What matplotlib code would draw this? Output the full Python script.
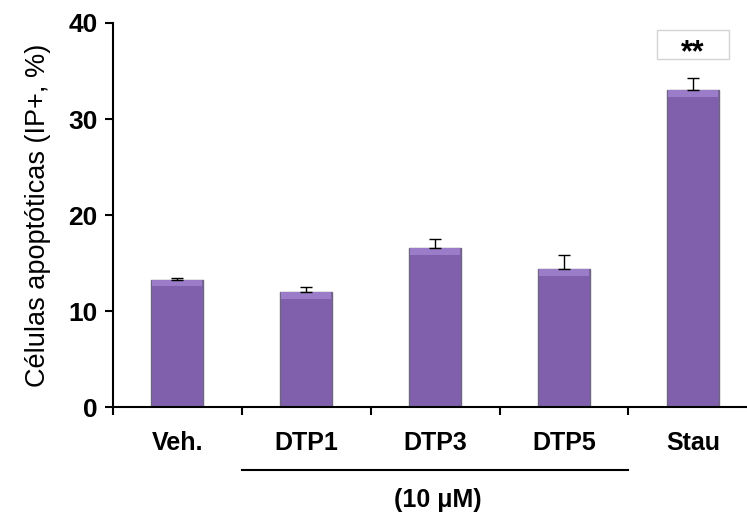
import matplotlib
matplotlib.use("Agg")
import matplotlib.pyplot as plt
import numpy as np

categories = ["Veh.", "DTP1", "DTP3", "DTP5", "Stau"]
values = [13.3, 12.0, 16.6, 14.4, 33.0]
errors = [0.2, 0.5, 0.9, 1.5, 1.3]
yticks = [0, 10, 20, 30, 40]
group_label = "(10 μM)"
signif = "**"

plt.rcParams['font.family'] = ['Liberation Sans', 'DejaVu Sans']

fig = plt.figure(figsize=(7.47, 5.13), dpi=100)
ax = fig.add_axes([0.151, 0.2057, 0.849, 0.7495])

x = np.arange(len(categories))
vals = np.array(values)
bw = 0.40
ax.bar(x, vals, width=bw, color='#8060ad', edgecolor='#6e6680', linewidth=1.0, zorder=2)
# bevel highlight on top of each bar
bevel = 0.7
ax.bar(x, np.full(len(x), bevel), bottom=vals - bevel, width=bw * 0.96,
       color='#9a7cc8', edgecolor='none', zorder=2.5)
ax.errorbar(x, vals, yerr=[np.zeros(len(errors)), errors], fmt='none',
            ecolor='black', elinewidth=1.0, capsize=4, capthick=1.0, zorder=3)

ax.set_xlim(-0.5, 4.42)
ax.set_ylim(0, 40)
ax.set_yticks(yticks)
ax.set_yticklabels([str(t) for t in yticks], fontsize=19, fontweight='bold')
ax.set_xticks(np.arange(-0.5, 4.5, 1.0))
ax.set_xticklabels([])
ax.set_xticks(x, minor=True)
ax.set_xticklabels(categories, minor=True, fontsize=18, fontweight='bold')
ax.tick_params(axis='x', which='minor', length=0, pad=17)
ax.tick_params(axis='x', which='major', direction='out', length=6, width=1.5)
ax.tick_params(axis='y', direction='out', length=6, width=1.5, pad=5)
ax.set_ylabel("Células apoptóticas (IP+, %)", fontsize=19.5, labelpad=12)

for s in ['top', 'right']:
    ax.spines[s].set_visible(False)
for s in ['left', 'bottom']:
    ax.spines[s].set_linewidth(1.5)

trans = ax.get_xaxis_transform()
ax.plot([0.5, 3.5], [-0.162, -0.162], color='black', linewidth=1.5, transform=trans, clip_on=False)
ax.text(2.02, -0.24, group_label, transform=trans, ha='center', va='center', fontsize=18, fontweight='bold')

# significance box and asterisks
ax.text(4, 37.76, " " * 9, ha='center', va='center', fontsize=20,
        bbox=dict(boxstyle='square,pad=0.05', fc='white', ec='#d4d4d4', lw=1.0), zorder=4)
ax.text(4, 36.8, signif, ha='center', va='center', fontsize=22, fontweight='bold', zorder=5)

fig.savefig("out.png", dpi=100)
